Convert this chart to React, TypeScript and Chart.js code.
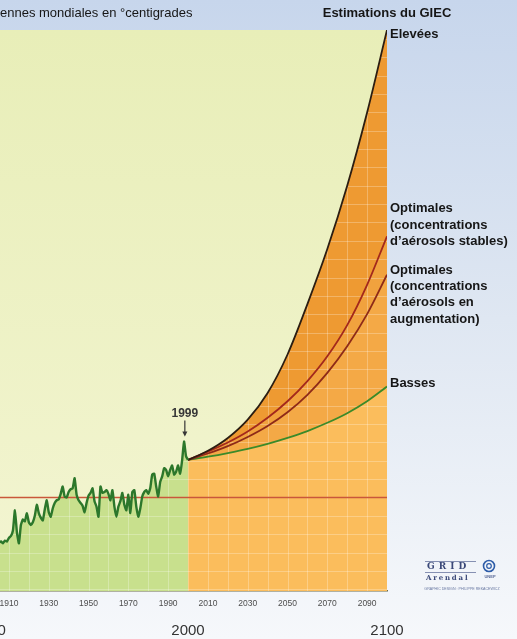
import React, { useEffect, useRef } from "react";
import { Chart, registerables } from "chart.js";

Chart.register(...registerables);

const FONT = '"Liberation Sans", Arial, sans-serif';

// ---- data ----
const histStartYear = 1904;
const histTemps = [
  -0.47, -0.49, -0.48, -0.5, -0.47, -0.48, -0.44, -0.42, -0.36, -0.14, // 1904-1913
  -0.38, -0.5, -0.3, -0.24, -0.26, -0.17, -0.27, -0.3, -0.27, -0.2, // 1914-1923
  -0.08, -0.17, -0.22, -0.25, -0.13, -0.03, -0.16, -0.21, -0.12, -0.06, // 1924-1933
  -0.03, -0.02, 0.04, 0.12, 0.01, 0.0, 0.06, 0.09, 0.1, 0.21, // 1934-1943
  0.03, -0.03, -0.06, -0.09, -0.16, -0.06, 0.02, 0.05, 0.1, -0.04, // 1944-1953
  -0.1, -0.21, 0.12, 0.05, 0.06, 0.08, 0.04, -0.03, 0.08, -0.1, // 1954-1963
  -0.21, -0.1, -0.04, 0.05, -0.08, -0.14, 0.03, -0.17, 0.06, 0.08, // 1964-1973
  -0.1, -0.21, -0.12, 0.01, 0.06, 0.08, 0.04, 0.1, 0.25, 0.26, // 1974-1983
  0.12, 0.01, 0.17, 0.23, 0.32, 0.3, 0.23, 0.3, 0.35, 0.25, // 1984-1993
  0.28, 0.35, 0.26, 0.4, 0.61, 0.45, 0.41, // 1994-2000
];

const projYears = [2000, 2010, 2020, 2030, 2040, 2050, 2060, 2070, 2080, 2090, 2100];
const eleveesTemps = [0.41, 0.51, 0.65, 0.85, 1.14, 1.56, 2.11, 2.71, 3.4, 4.2, 5.1];
const optStableTemps = [0.41, 0.5, 0.6, 0.72, 0.87, 1.05, 1.27, 1.54, 1.88, 2.32, 2.85];
const optAugTemps = [0.41, 0.48, 0.56, 0.66, 0.78, 0.93, 1.12, 1.36, 1.65, 2.0, 2.43];
const bassesTemps = [0.41, 0.445, 0.485, 0.53, 0.585, 0.65, 0.725, 0.815, 0.92, 1.05, 1.21];

const refYears = [1905.5, 2100];
const refTemps = [0, 0];

const smallTickYears = [1910, 1930, 1950, 1970, 1990, 2010, 2030, 2050, 2070, 2090];
const bigTickYears = [1900, 2000, 2100];

const xMin = 1905.5;
const xMax = 2100;
const yMin = -1.02;
const yMax = 5.1;
const peakYear = 1998;

const titleText = "ennes mondiales en °centigrades";
const sourceTitle = "Estimations du GIEC";
const labelElevees = ["Elevées"];
const labelOptStable = ["Optimales", "(concentrations", "d’aérosols stables)"];
const labelOptAug = ["Optimales", "(concentrations", "d’aérosols en", "augmentation)"];
const labelBasses = ["Basses"];

const addFillPolygon = (ctx: CanvasRenderingContext2D, meta: any, a: any) => {
  const line = meta.dataset;
  const pts = meta.data;
  if (!line || !pts.length) return;
  line.updateControlPoints(a, "x");
  line.path(ctx);
  ctx.lineTo(pts[pts.length - 1].x, a.bottom);
  ctx.lineTo(pts[0].x, a.bottom);
  ctx.closePath();
};

const decorPlugin = {
  id: "decor",
  beforeDraw(chart: any) {
    const { ctx, width, height, chartArea: a } = chart;
    ctx.save();
    const bg = ctx.createLinearGradient(0, 0, 0, height);
    bg.addColorStop(0, "#c7d6ec");
    bg.addColorStop(0.5, "#dfe7f2");
    bg.addColorStop(1, "#f6f8fb");
    ctx.fillStyle = bg;
    ctx.fillRect(0, 0, width, height);
    const yg = ctx.createLinearGradient(0, a.top, 0, a.bottom);
    yg.addColorStop(0, "#e8eeb8");
    yg.addColorStop(1, "#f3f5d2");
    ctx.fillStyle = yg;
    ctx.fillRect(a.left, a.top, a.right - a.left, a.bottom - a.top);
    ctx.restore();
  },
  beforeDatasetsDraw(chart: any) {
    const { ctx, chartArea: a, scales } = chart;
    const xs = scales.x;
    const ys = scales.y;
    ctx.save();
    ctx.beginPath();
    ctx.rect(a.left, a.top, a.right - a.left, a.bottom - a.top);
    ctx.clip();
    ctx.beginPath();
    addFillPolygon(ctx, chart.getDatasetMeta(0), a);
    addFillPolygon(ctx, chart.getDatasetMeta(1), a);
    ctx.clip();
    ctx.strokeStyle = "rgba(255,255,255,0.26)";
    ctx.lineWidth = 1;
    ctx.beginPath();
    for (let yr = 1910; yr < 2100; yr += 10) {
      const px = Math.round(xs.getPixelForValue(yr)) + 0.5;
      ctx.moveTo(px, a.top);
      ctx.lineTo(px, a.bottom);
    }
    for (let t = -1.0; t < yMax; t += 0.2) {
      const py = Math.round(ys.getPixelForValue(t)) + 0.5;
      ctx.moveTo(a.left, py);
      ctx.lineTo(a.right, py);
    }
    ctx.stroke();
    ctx.restore();
  },
  afterDatasetsDraw(chart: any) {
    const { ctx, scales } = chart;
    const idx = peakYear - histStartYear;
    const px = scales.x.getPixelForValue(peakYear + 0.4);
    const py = scales.y.getPixelForValue(histTemps[idx]);
    ctx.save();
    ctx.fillStyle = "#363636";
    ctx.strokeStyle = "#363636";
    ctx.font = `bold 12px ${FONT}`;
    ctx.textAlign = "center";
    ctx.textBaseline = "middle";
    ctx.fillText("1999", px, py - 28);
    ctx.lineWidth = 1.2;
    ctx.beginPath();
    ctx.moveTo(px, py - 21);
    ctx.lineTo(px, py - 7);
    ctx.stroke();
    ctx.beginPath();
    ctx.moveTo(px - 2.5, py - 10);
    ctx.lineTo(px, py - 5);
    ctx.lineTo(px + 2.5, py - 10);
    ctx.closePath();
    ctx.fill();
    ctx.restore();
  },
  afterDraw(chart: any) {
    const { ctx, chartArea: a } = chart;
    ctx.save();
    ctx.fillStyle = "#161616";
    ctx.textBaseline = "middle";
    ctx.textAlign = "left";
    ctx.font = `13px ${FONT}`;
    ctx.fillText(titleText, 0, 13.5);
    ctx.font = `bold 13px ${FONT}`;
    ctx.textAlign = "center";
    ctx.fillText(sourceTitle, a.right, 13.5);
    ctx.textAlign = "left";
    const lx = a.right + 3;
    const block = (lines: string[], y0: number, step: number) => {
      lines.forEach((l, i) => ctx.fillText(l, lx, y0 + i * step));
    };
    block(labelElevees, 34.5, 16);
    block(labelOptStable, 208.5, 16.5);
    block(labelOptAug, 270.5, 16.2);
    block(labelBasses, 383, 16);

    // GRID-Arendal / UNEP credit
    ctx.fillStyle = "#3a4878";
    ctx.font = 'bold 9px "DejaVu Serif", serif';
    (ctx as any).letterSpacing = "4px";
    ctx.fillText("GRID", 427, 567);
    ctx.strokeStyle = "#6a76a0";
    ctx.lineWidth = 0.8;
    ctx.beginPath();
    ctx.moveTo(425, 561.5);
    ctx.lineTo(476, 561.5);
    ctx.moveTo(425, 572.5);
    ctx.lineTo(476, 572.5);
    ctx.stroke();
    ctx.font = 'bold 7px "DejaVu Serif", serif';
    (ctx as any).letterSpacing = "1.8px";
    ctx.fillText("Arendal", 426, 578);
    (ctx as any).letterSpacing = "0px";
    ctx.strokeStyle = "#2d5ca8";
    ctx.lineWidth = 1.6;
    ctx.beginPath();
    ctx.arc(489, 566, 5.5, 0, Math.PI * 2);
    ctx.stroke();
    ctx.lineWidth = 1.2;
    ctx.beginPath();
    ctx.arc(489, 566, 2.3, 0, Math.PI * 2);
    ctx.stroke();
    ctx.fillStyle = "#5a6a98";
    ctx.font = `bold 4px ${FONT}`;
    ctx.textAlign = "center";
    ctx.fillText("UNEP", 490, 577);
    ctx.font = `3.6px ${FONT}`;
    ctx.fillStyle = "#6676a0";
    ctx.fillText("GRAPHIC DESIGN : PHILIPPE REKACEWICZ", 462, 588.5);
    ctx.restore();
  },
};

export default function App() {
  const ref = useRef<HTMLCanvasElement>(null);

  useEffect(() => {
    if (!ref.current) return;
    const hist = histTemps.map((t, i) => ({ x: histStartYear + i, y: t }));
    const mk = (arr: number[]) => arr.map((t, i) => ({ x: projYears[i], y: t }));
    const chart = new Chart(ref.current, {
      type: "line",
      data: {
        datasets: [
          {
            label: "Observées",
            data: hist,
            borderColor: "#2c772b",
            borderWidth: 2.4,
            backgroundColor: "#c8e08d",
            fill: "start",
            pointRadius: 0,
            tension: 0.15,
          },
          {
            label: "Elevées",
            data: mk(eleveesTemps),
            borderColor: "#2b1d12",
            borderWidth: 1.8,
            backgroundColor: "#ee9a32",
            fill: "+1",
            pointRadius: 0,
            cubicInterpolationMode: "monotone",
          },
          {
            label: "Optimales (aérosols stables)",
            data: mk(optStableTemps),
            borderColor: "#a3281c",
            borderWidth: 1.8,
            backgroundColor: "#f1a23e",
            fill: "+1",
            pointRadius: 0,
            cubicInterpolationMode: "monotone",
          },
          {
            label: "Optimales (aérosols en augmentation)",
            data: mk(optAugTemps),
            borderColor: "#8e2a18",
            borderWidth: 1.8,
            backgroundColor: "#f4a946",
            fill: "+1",
            pointRadius: 0,
            cubicInterpolationMode: "monotone",
          },
          {
            label: "Basses",
            data: mk(bassesTemps),
            borderColor: "#3b8a29",
            borderWidth: 1.8,
            backgroundColor: "#fbbd5c",
            fill: "start",
            pointRadius: 0,
            cubicInterpolationMode: "monotone",
          },
          {
            label: "Référence",
            data: refYears.map((yr, i) => ({ x: yr, y: refTemps[i] })),
            borderColor: "#c9573b",
            borderWidth: 1.4,
            fill: false,
            pointRadius: 0,
          },
        ],
      },
      options: {
        responsive: false,
        maintainAspectRatio: false,
        animation: false,
        devicePixelRatio: 1,
        layout: { padding: { left: 0, top: 30, right: 130, bottom: 0 } },
        plugins: {
          legend: { display: false },
          tooltip: { enabled: false },
          filler: { drawTime: "beforeDatasetsDraw" },
        },
        scales: {
          x: {
            type: "linear",
            min: xMin,
            max: xMax,
            position: "bottom",
            weight: 0,
            grid: { display: false, drawTicks: false },
            border: { display: true, color: "#6c6c4a", width: 1.5 },
            ticks: {
              autoSkip: false,
              maxRotation: 0,
              padding: 8,
              color: "#4d4d4d",
              font: { size: 8.5, family: FONT },
              callback: (v: any) => String(v),
            },
            afterBuildTicks: (s: any) => {
              s.ticks = smallTickYears.map((v) => ({ value: v }));
            },
            afterFit: (s: any) => {
              s.height = 24;
              s.paddingLeft = 0;
              s.paddingRight = 0;
            },
          },
          x2: {
            type: "linear",
            min: xMin,
            max: xMax,
            position: "bottom",
            weight: 1,
            grid: { display: false, drawTicks: false },
            border: { display: false },
            ticks: {
              autoSkip: false,
              maxRotation: 0,
              padding: 7,
              color: "#333333",
              font: { size: 15, family: FONT },
              callback: (v: any) => String(v),
            },
            afterBuildTicks: (s: any) => {
              s.ticks = bigTickYears.map((v) => ({ value: v }));
            },
            afterFit: (s: any) => {
              s.height = 24;
              s.paddingLeft = 0;
              s.paddingRight = 0;
            },
          },
          y: { type: "linear", min: yMin, max: yMax, display: false },
        },
      },
      plugins: [decorPlugin],
    } as any);
    return () => chart.destroy();
  }, []);

  return (
    <div style={{ position: "fixed", left: 0, top: 0, width: 517, height: 639 }}>
      <canvas ref={ref} width={517} height={639} style={{ display: "block", width: 517, height: 639 }} />
    </div>
  );
}
